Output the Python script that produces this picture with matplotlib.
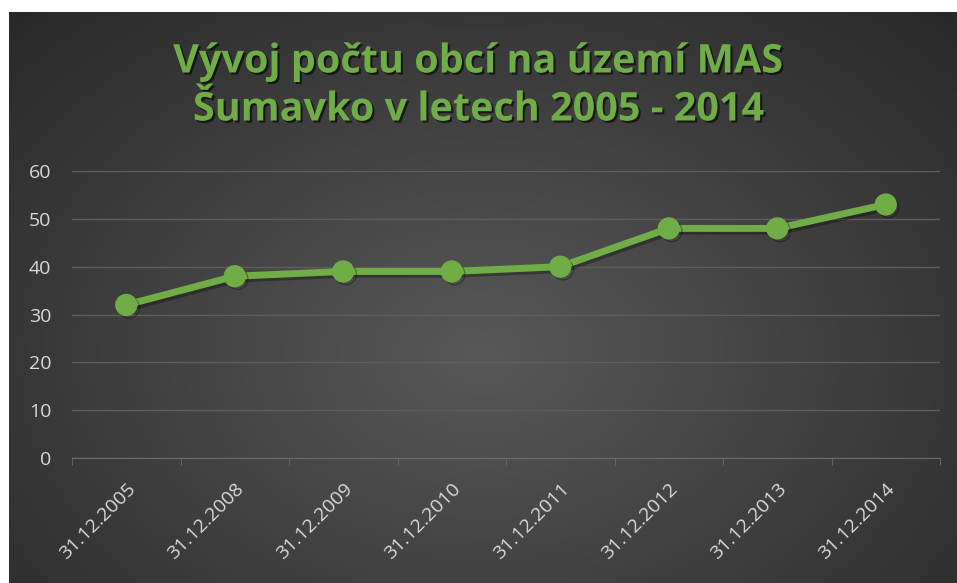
import numpy as np
import matplotlib.pyplot as plt
import matplotlib.patheffects as pe

# Data
dates = ['31.12.2005', '31.12.2008', '31.12.2009', '31.12.2010',
         '31.12.2011', '31.12.2012', '31.12.2013', '31.12.2014']
obce = [32, 38, 39, 39, 40, 48, 48, 53]

green = '#70ad47'
W, H = 957, 583

fig = plt.figure(figsize=(W / 100, H / 100), dpi=100, facecolor='white')

# dark radial gradient background
bg = fig.add_axes([9 / W, 0, 1 - 9 / W, 1 - 12 / H])
yy, xx = np.mgrid[0:1:300j, 0:1:500j]
r = np.sqrt(((xx - 0.5) / 0.75) ** 2 + ((yy - 0.6) / 0.9) ** 2)
bg.imshow(np.clip(r, 0, 1), cmap=plt.matplotlib.colors.LinearSegmentedColormap.from_list(
    'g', ['#585858', '#262626']), vmin=0, vmax=1, aspect='auto', extent=[0, 1, 0, 1])
bg.axis('off')

ax = fig.add_axes([72 / W, 1 - 458 / H, (940 - 72) / W, (458 - 171) / H])
ax.patch.set_alpha(0)

x = np.arange(len(dates))
ax.plot(x, obce, color=green, lw=5, marker='o', ms=15, mfc=green, mec=green,
        solid_joinstyle='round', zorder=3,
        path_effects=[pe.SimpleLineShadow(offset=(2, -2), shadow_color='black', alpha=0.3),
                      pe.Normal()])

ax.set_xlim(-0.5, len(dates) - 0.5)
ax.set_ylim(0, 60)
ax.set_yticks(range(0, 61, 10))
ax.yaxis.grid(True, color='#5e5e5e', lw=1)
ax.set_axisbelow(True)
for s in ['top', 'right', 'left']:
    ax.spines[s].set_visible(False)
ax.spines['bottom'].set_color('#6a6a6a')

ax.set_xticks(x)
ax.set_xticklabels(dates, rotation=45, ha='right', va='top', rotation_mode='anchor',
                   fontsize=14, color='#d9d9d9', family='Open Sans')
ax.set_xticks(np.arange(-0.5, len(dates), 1), minor=True)
ax.tick_params(axis='x', which='major', length=0, pad=16)
ax.tick_params(axis='x', which='minor', length=5, color='#6a6a6a')
ax.tick_params(axis='y', length=0, labelsize=14, labelcolor='#d9d9d9', pad=15)
for lab in ax.get_yticklabels():
    lab.set_family('Open Sans')

title_lines = ['Vývoj počtu obcí na území MAS', 'Šumavko v letech 2005 - 2014']
for i, line in enumerate(title_lines):
    fig.text(0.5, 1 - (62 + 48 * i) / H, line,
             ha='center', va='center', fontsize=28.5, fontweight='bold', color=green,
             family='Open Sans',
             path_effects=[pe.withSimplePatchShadow(offset=(1.5, -1.5), shadow_rgbFace='black', alpha=0.6)])

fig.savefig('out.png', dpi=100)
